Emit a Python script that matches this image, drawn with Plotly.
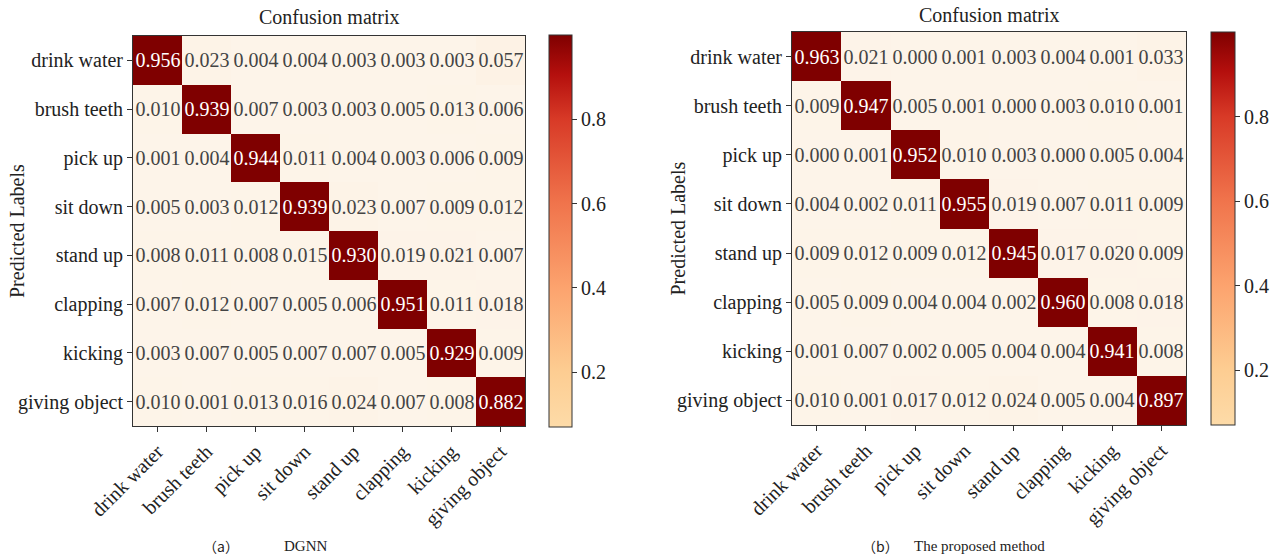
import plotly.graph_objects as go

labels = ["drink water", "brush teeth", "pick up", "sit down", "stand up",
          "clapping", "kicking", "giving object"]

dgnn = [
    [0.956, 0.023, 0.004, 0.004, 0.003, 0.003, 0.003, 0.057],
    [0.010, 0.939, 0.007, 0.003, 0.003, 0.005, 0.013, 0.006],
    [0.001, 0.004, 0.944, 0.011, 0.004, 0.003, 0.006, 0.009],
    [0.005, 0.003, 0.012, 0.939, 0.023, 0.007, 0.009, 0.012],
    [0.008, 0.011, 0.008, 0.015, 0.930, 0.019, 0.021, 0.007],
    [0.007, 0.012, 0.007, 0.005, 0.006, 0.951, 0.011, 0.018],
    [0.003, 0.007, 0.005, 0.007, 0.007, 0.005, 0.929, 0.009],
    [0.010, 0.001, 0.013, 0.016, 0.024, 0.007, 0.008, 0.882],
]

proposed = [
    [0.963, 0.021, 0.000, 0.001, 0.003, 0.004, 0.001, 0.033],
    [0.009, 0.947, 0.005, 0.001, 0.000, 0.003, 0.010, 0.001],
    [0.000, 0.001, 0.952, 0.010, 0.003, 0.000, 0.005, 0.004],
    [0.004, 0.002, 0.011, 0.955, 0.019, 0.007, 0.011, 0.009],
    [0.009, 0.012, 0.009, 0.012, 0.945, 0.017, 0.020, 0.009],
    [0.005, 0.009, 0.004, 0.004, 0.002, 0.960, 0.008, 0.018],
    [0.001, 0.007, 0.002, 0.005, 0.004, 0.004, 0.941, 0.008],
    [0.010, 0.001, 0.017, 0.012, 0.024, 0.005, 0.004, 0.897],
]

cbar_ticks = [0.2, 0.4, 0.6, 0.8]
titles = ["Confusion matrix", "Confusion matrix"]
caption_tags = ["（a）", "（b）"]
caption_texts = ["DGNN", "The proposed method"]

W, H = 1273, 556
SERIF = "Liberation Serif, Times New Roman, Noto Sans CJK SC, serif"
CJK = "Noto Sans CJK SC, Liberation Serif, serif"

cell_scale = [[0, "#fdf4e9"], [0.1, "#fdf1e2"], [0.8, "#800000"], [1, "#7f0000"]]
bar_scale = [[0, "#fddba8"], [0.14, "#fdcd92"], [0.355, "#fca36e"],
             [0.57, "#f0744c"], [0.785, "#d83a27"], [0.9, "#b40f0d"], [1, "#7f0000"]]

# pixel boxes: (left, top, right, bottom)
plots = [(133, 36, 525, 426), (792, 32, 1186, 425)]
cbars = [(549, 35, 572, 427), (1211, 32, 1235, 425)]
ytitle_x = [17, 677]
title_y = [17, 15]
caption_tag_x = [201, 860]
caption_text_x = [282, 912]

fig = go.Figure()

for i, (data, (l, t, r, b)) in enumerate(zip([dgnn, proposed], plots)):
    xa = "x" if i == 0 else "x2"
    ya = "y" if i == 0 else "y2"
    fig.add_trace(go.Heatmap(
        z=data, x=labels, y=labels, xaxis=xa, yaxis=ya,
        colorscale=cell_scale, zmin=0, zmax=1, showscale=False,
        texttemplate="%{z:.3f}",
        textfont=dict(family=SERIF, size=20),
        xgap=0, ygap=0, hoverinfo="skip",
    ))
    cl, ct, cr, cb = cbars[i]
    fig.add_trace(go.Heatmap(
        z=[[0.07, 1.0]], xaxis="x3", yaxis="y3",
        colorscale=bar_scale, zmin=0.07, zmax=1.0, showscale=True,
        hoverinfo="skip", opacity=0,
        colorbar=dict(
            x=cl / W, xanchor="left", xref="paper",
            y=1 - (ct + cb) / 2 / H, yanchor="middle",
            len=(cb - ct) / H, lenmode="fraction",
            thickness=cr - cl, thicknessmode="pixels",
            outlinewidth=1, outlinecolor="#333333",
            tickvals=cbar_ticks, ticktext=[str(v) for v in cbar_ticks],
            ticks="outside", ticklen=5, tickcolor="#333333",
            tickfont=dict(family=SERIF, size=20, color="#222222"),
            xpad=0, ypad=0,
        ),
    ))

axis_common = dict(
    showline=True, linecolor="#333333", linewidth=1, mirror=True,
    ticks="outside", ticklen=5, tickcolor="#333333",
    tickfont=dict(family=SERIF, size=20, color="#222222"),
    showgrid=False, zeroline=False, fixedrange=True, automargin=False,
)

l, t, r, b = plots[0]
fig.update_layout(
    xaxis=dict(domain=[l / W, r / W], anchor="y", tickangle=-45, **axis_common),
    yaxis=dict(domain=[1 - b / H, 1 - t / H], anchor="x", autorange="reversed", **axis_common),
)
l, t, r, b = plots[1]
fig.update_layout(
    xaxis2=dict(domain=[l / W, r / W], anchor="y2", tickangle=-45, **axis_common),
    yaxis2=dict(domain=[1 - b / H, 1 - t / H], anchor="x2", autorange="reversed", **axis_common),
    xaxis3=dict(domain=[0, 0.001], visible=False, anchor="y3"),
    yaxis3=dict(domain=[0, 0.001], visible=False, anchor="x3"),
)

annotations = []
for i, (l, t, r, b) in enumerate(plots):
    annotations.append(dict(
        text=titles[i], xref="paper", yref="paper",
        x=(l + r) / 2 / W, y=1 - title_y[i] / H, xanchor="center", yanchor="middle",
        showarrow=False, font=dict(family=SERIF, size=20, color="#222222"),
    ))
    annotations.append(dict(
        text="Predicted Labels", xref="paper", yref="paper", textangle=-90,
        x=ytitle_x[i] / W, y=1 - (t + b) / 2 / H, xanchor="center", yanchor="middle",
        showarrow=False, font=dict(family=SERIF, size=20, color="#222222"),
    ))
    annotations.append(dict(
        text=caption_tags[i], xref="paper", yref="paper",
        x=caption_tag_x[i] / W, y=1 - 546 / H, xanchor="left", yanchor="middle",
        showarrow=False, font=dict(family=CJK, size=14, color="#222222"),
    ))
    annotations.append(dict(
        text=caption_texts[i], xref="paper", yref="paper",
        x=caption_text_x[i] / W, y=1 - 546 / H, xanchor="left", yanchor="middle",
        showarrow=False, font=dict(family=SERIF, size=15, color="#222222"),
    ))

fig.update_layout(
    width=W, height=H, margin=dict(l=0, r=0, t=0, b=0, autoexpand=False),
    paper_bgcolor="white", plot_bgcolor="white",
    annotations=annotations, showlegend=False,
)

fig.write_html(
    "out.html",
    config={"displayModeBar": False, "staticPlot": True},
    post_script="document.body.style.margin='0';document.body.style.padding='0';"
                "document.body.style.overflow='hidden';",
)
